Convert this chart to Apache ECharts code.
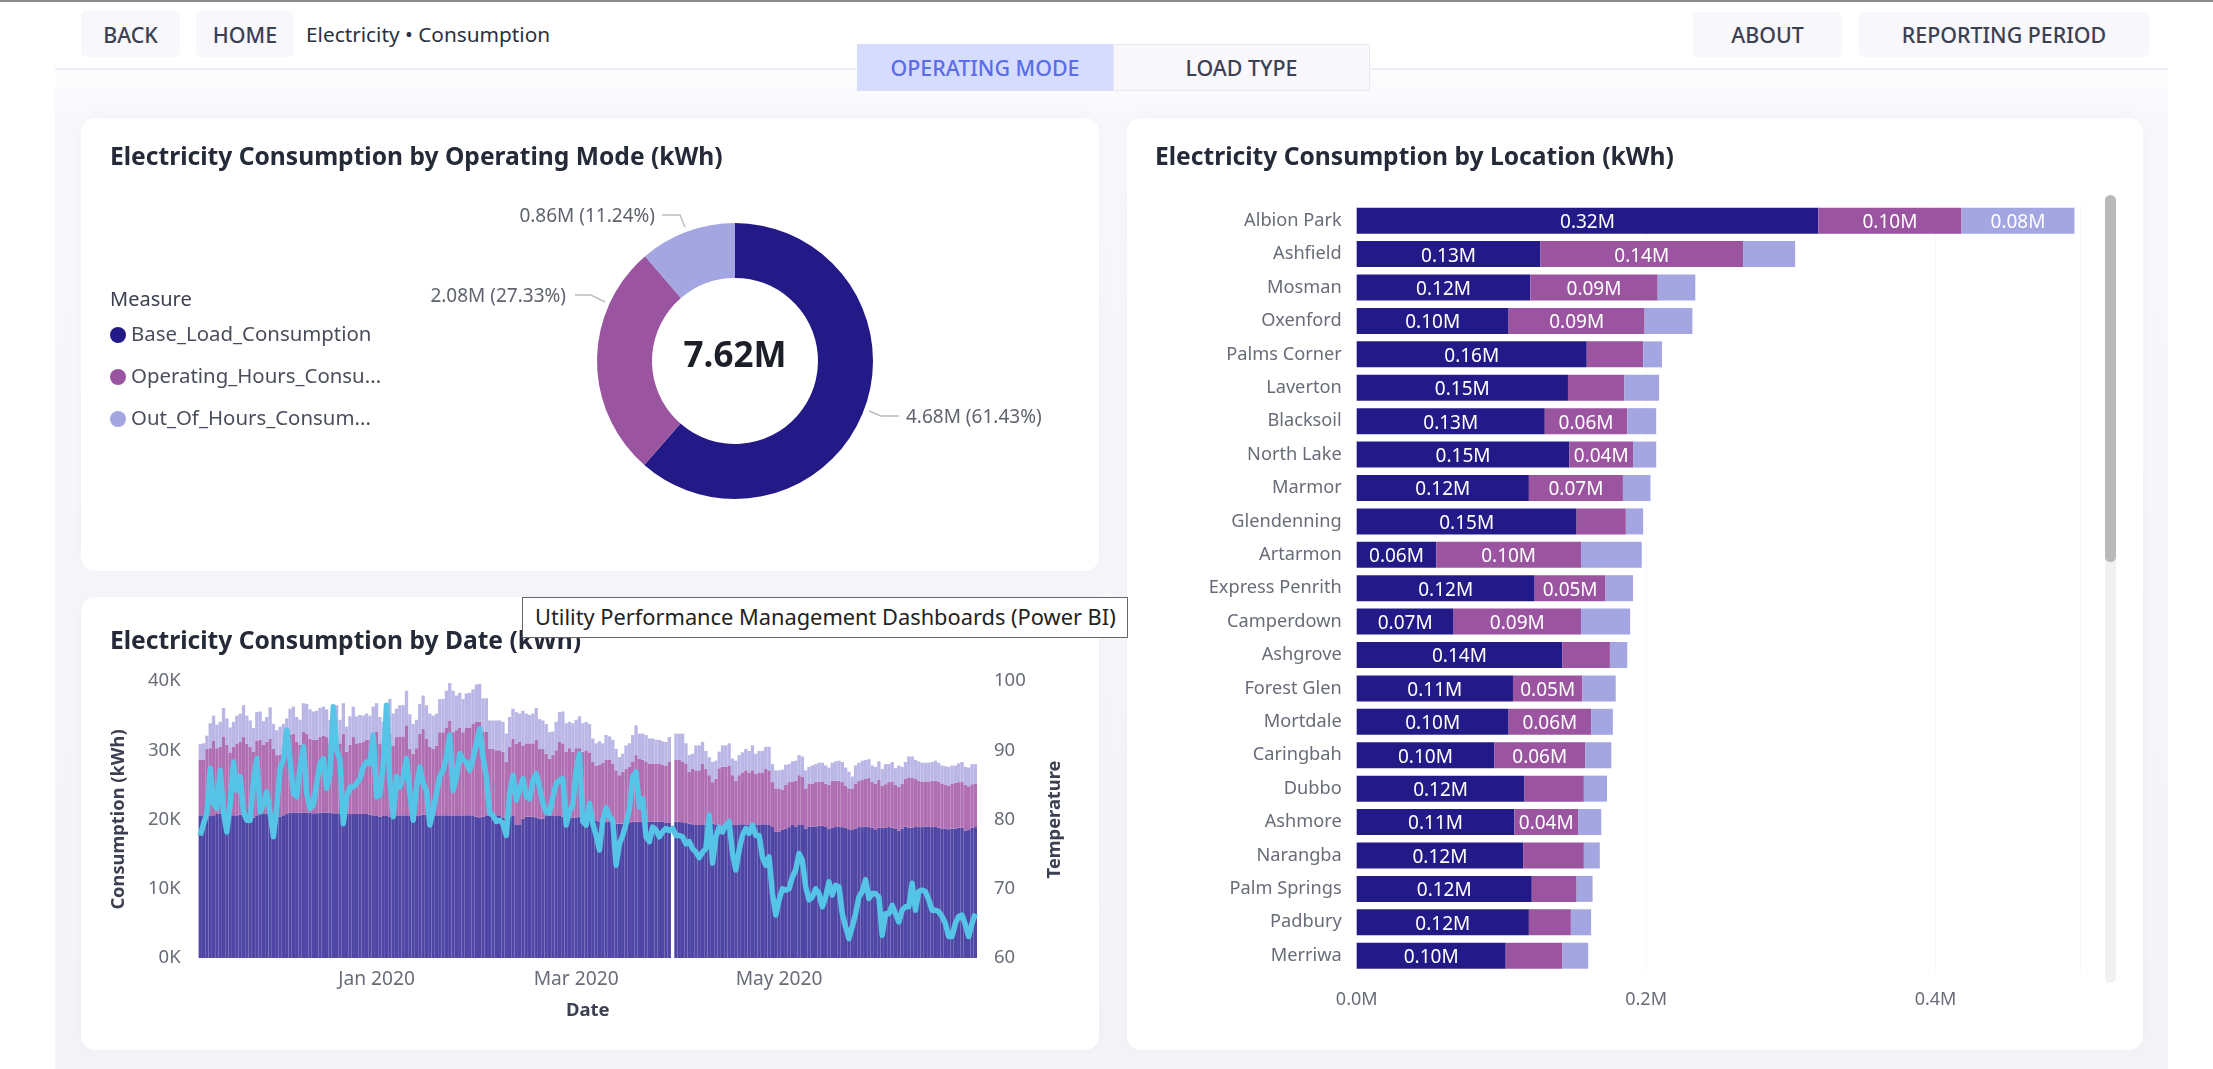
<!DOCTYPE html>
<html lang="en">

<head>
    <meta charset="UTF-8">
    <title>Electricity Consumption</title>
    <script src="https://cdn.jsdelivr.net/npm/echarts@6/dist/echarts.min.js"></script>
    <style>
        html, body { margin: 0; padding: 0; background: #fff; }
        body { width: 2213px; height: 1069px; overflow: hidden; position: relative; font-family: "Noto Sans", sans-serif; color: #3c4050; }
        .topline { position: absolute; left: 0; top: 0; width: 2213px; height: 2px; background: #8c8c90; }
        .page { position: absolute; left: 55px; top: 68px; width: 2113px; height: 1001px; background: linear-gradient(#fdfdfe, #f8f8fc 50px, #f4f4f8); border-top: 2px solid #eeeef6; box-sizing: border-box; }
        .btn { position: absolute; background: #f7f7fc; border-radius: 5px; font-size: 21.4px; font-weight: 500; display: flex; align-items: center; justify-content: center; }
        .crumb { position: absolute; left: 306px; top: 20px; font-size: 20.8px; color: #2c3040; }
        .card { position: absolute; background: #fff; border-radius: 14px; box-shadow: 0 0 14px rgba(120, 120, 170, 0.06); }
        #tip { position: absolute; left: 522px; top: 597px; width: 606px; height: 41px; box-sizing: border-box; background: #fff; border: 1.5px solid #666; font-size: 21.8px; color: #222; line-height: 38px; padding-left: 12px; white-space: nowrap; z-index: 5; }
        #main { position: absolute; left: 0; top: 0; width: 2213px; height: 1069px; z-index: 2; }
        .track { position: absolute; left: 2105px; top: 195px; width: 11px; height: 788px; background: #f1f1f3; border-radius: 6px; z-index: 3; }
        .thumb { position: absolute; left: 2105px; top: 195px; width: 11px; height: 367px; background: #b9b9bb; border-radius: 6px; z-index: 3; }
    </style>
</head>

<body>
    <div class="topline"></div>
    <div class="page"></div>
    <div class="btn" style="left:81px;top:11px;width:99px;height:46px">BACK</div>
    <div class="btn" style="left:196px;top:11px;width:98px;height:46px">HOME</div>
    <div class="crumb">Electricity • Consumption</div>
    <div class="btn" style="left:857px;top:44px;width:256px;height:47px;background:#d5dcfd;color:#5a6cea;border-radius:0">OPERATING MODE</div>
    <div class="btn" style="left:1113px;top:44px;width:257px;height:47px;border:1px solid #e8e8f2;box-sizing:border-box;border-radius:0">LOAD TYPE</div>
    <div class="btn" style="left:1693px;top:12px;width:149px;height:45px">ABOUT</div>
    <div class="btn" style="left:1859px;top:12px;width:290px;height:45px">REPORTING PERIOD</div>
    <div class="card" style="left:81px;top:118px;width:1018px;height:453px"></div>
    <div class="card" style="left:81px;top:597px;width:1018px;height:453px"></div>
    <div class="card" style="left:1127px;top:118px;width:1016px;height:932px"></div>
    <div class="track"></div>
    <div class="thumb"></div>
    <div id="tip">Utility Performance Management Dashboards (Power BI)</div>
    <div id="main"></div>
</body>
<script>
    // donut, in millions of kWh
    const measures = ['Base_Load_Consumption', 'Operating_Hours_Consumption', 'Out_Of_Hours_Consumption']
    const measureLabels = ['Base_Load_Consumption', 'Operating_Hours_Consu...', 'Out_Of_Hours_Consum...']
    const modeValues = [4.68, 2.08, 0.86]
    const modePercents = ['61.43', '27.33', '11.24']
    const modeTotal = '7.62M'

    // locations, in millions of kWh
    const locations = ['Albion Park', 'Ashfield', 'Mosman', 'Oxenford', 'Palms Corner', 'Laverton', 'Blacksoil', 'North Lake', 'Marmor', 'Glendenning', 'Artarmon', 'Express Penrith', 'Camperdown', 'Ashgrove', 'Forest Glen', 'Mortdale', 'Caringbah', 'Dubbo', 'Ashmore', 'Narangba', 'Palm Springs', 'Padbury', 'Merriwa']
    const locBase = [0.319, 0.127, 0.120, 0.105, 0.159, 0.146, 0.130, 0.147, 0.119, 0.152, 0.055, 0.123, 0.067, 0.142, 0.108, 0.105, 0.095, 0.116, 0.109, 0.115, 0.121, 0.119, 0.103]
    const locOperating = [0.099, 0.140, 0.088, 0.094, 0.039, 0.039, 0.057, 0.044, 0.065, 0.034, 0.100, 0.049, 0.088, 0.033, 0.048, 0.057, 0.063, 0.041, 0.044, 0.042, 0.031, 0.029, 0.039]
    const locOut = [0.078, 0.036, 0.026, 0.033, 0.013, 0.024, 0.020, 0.016, 0.019, 0.012, 0.042, 0.019, 0.034, 0.012, 0.023, 0.015, 0.018, 0.016, 0.016, 0.011, 0.011, 0.014, 0.018]

    // daily series from 9 Nov 2019, in thousands of kWh; one day has no bars
    const dayBase = [
        20.6, 20.6, 20.6, 20.5, 20.6, 20.8, 20.9, 21.0, 20.9, 20.7, 20.6, 20.6, 20.7, 20.7, 20.6, 20.4, 20.3, 20.6, 20.8, 20.8,
        20.8, 20.6, 20.6, 20.6, 20.4, 20.6, 20.8, 21.0, 21.0, 21.0, 21.0, 21.0, 21.0, 21.0, 20.9, 20.9, 21.0, 21.0, 21.0, 21.0,
        20.9, 20.9, 20.8, 20.8, 20.8, 20.8, 20.8, 20.8, 20.8, 20.8, 20.8, 20.7, 20.6, 20.5, 20.4, 20.6, 20.5, 20.4, 20.3,
        20.6, 20.6, 20.6, 20.6, 20.6, 20.4, 20.5, 20.6, 20.7, 20.7, 20.6, 20.6, 20.6, 20.6, 20.6, 20.6, 20.6, 20.6, 20.6, 20.6,
        20.6, 20.6, 20.6, 20.6, 20.4, 20.3, 20.4, 20.5, 20.6, 20.6, 20.6, 20.5, 20.3, 20.1, 20.4, 20.5, 19.3, 19.2, 20.1, 20.4,
        20.4, 20.4, 20.3, 20.1, 20.1, 20.5, 20.5, 20.5, 20.5, 20.5, 20.4, 20.3, 20.3, 20.3, 20.3, 20.4, 20.3, 20.2, 20.1,
        19.9, 19.8, 19.7, 19.7, 19.7, 19.7, 19.5, 19.4, 19.4, 19.4, 19.5, 19.5, 19.7, 19.7, 19.7, 19.7, 19.7, 19.7, 19.7, 19.7,
        19.7, 19.7, 19.5, 19.5, null,
        19.7, 19.7, 19.6, 19.5, 19.4, 19.3, 19.2, 19.2, 19.2, 19.3, 19.4, 19.4, 19.3, 19.2, 19.1, 19.1, 19.1, 19.2, 19.2, 19.3,
        19.3, 19.3, 19.3, 19.3, 19.3, 19.3, 19.3, 19.3, 19.2, 18.9, 18.2, 18.2, 18.5,
        18.7, 18.9, 19.2, 19.0, 19.3, 19.2, 18.7, 19.0, 19.0, 19.0, 19.1, 19.1, 18.9, 18.7, 18.8, 18.9, 19.0, 18.9, 18.8, 18.6,
        18.5, 18.7, 18.9, 18.9, 19.0, 18.9, 18.8, 18.6, 18.8, 18.8, 18.8, 18.9, 18.8, 18.7, 18.4, 18.7, 19.0, 18.8, 18.8, 18.9,
        18.9, 18.9, 19.0, 19.0, 18.9, 18.9, 18.8, 18.7, 18.7, 18.6, 18.7, 18.7, 18.8, 18.8, 18.4, 18.5, 18.8, 18.9
    ]
    const dayOperating = [
        8.0, 8.0, 9.6, 9.8, 10.8, 9.5, 9.6, 11.0, 9.9, 9.0, 9.9, 10.3, 10.5, 11.2, 10.3, 10.1, 9.5, 10.8, 10.7, 10.0,
        10.4, 11.1, 9.6, 8.7, 8.9, 8.9, 10.0, 11.2, 11.4, 10.2, 9.8, 11.7, 11.4, 10.7, 10.6, 10.6, 10.9, 11.1, 10.9, 10.0,
        11.0, 11.5, 10.2, 11.6, 9.0, 10.0, 11.1, 10.2, 10.3, 10.4, 10.7, 10.8, 11.5, 12.2, 10.6, 9.9, 11.2, 12.0, 10.4,
        11.3, 11.4, 11.4, 13.0, 9.6, 9.1, 9.8, 11.8, 12.4, 11.0, 9.9, 9.6, 10.1, 12.0, 12.0, 12.7, 13.7, 12.0, 12.3, 12.7,
        12.0, 12.7, 12.7, 13.2, 13.7, 13.8, 12.3, 12.2, 9.6, 9.6, 9.4, 9.5, 9.5, 8.2, 10.1, 11.2, 11.6, 12.0, 10.6, 10.6,
        10.6, 10.6, 11.2, 10.1, 10.1, 9.0, 8.3, 8.8, 9.5, 10.7, 10.6, 9.5, 10.0, 9.5, 10.0, 9.9, 9.5, 9.8, 9.6,
        8.4, 8.0, 8.2, 8.5, 8.9, 8.9, 8.6, 7.7, 7.0, 7.5, 7.8, 8.1, 8.7, 9.6, 9.1, 8.9, 8.7, 8.4, 8.4, 8.4,
        8.4, 8.2, 8.3, 8.8, null,
        8.9, 8.9, 8.7, 8.6, 7.5, 8.0, 7.9, 7.9, 8.9, 8.0, 7.0, 6.0, 6.6, 8.2, 8.5, 8.5, 8.7, 7.2, 6.4, 7.1,
        7.5, 7.8, 7.5, 7.8, 7.3, 7.5, 7.5, 8.0, 7.9, 6.5, 6.3, 6.3, 5.8,
        6.3, 6.5, 6.3, 6.6, 7.1, 7.0, 5.8, 6.2, 6.2, 6.4, 6.4, 6.4, 6.3, 6.3, 6.8, 6.7, 6.6, 6.5, 6.1, 5.9,
        6.0, 6.5, 6.7, 6.8, 6.9, 7.1, 6.6, 6.6, 6.9, 6.1, 6.3, 6.5, 6.7, 6.3, 6.3, 6.5, 6.9, 7.3, 7.2, 7.0,
        6.7, 6.6, 6.5, 6.5, 6.7, 6.7, 6.7, 6.5, 6.3, 6.3, 6.5, 6.6, 6.6, 6.7, 6.6, 6.3, 6.3, 6.3
    ]
    const dayOut = [
        2.3, 2.4, 1.9, 3.6, 3.6, 3.4, 3.6, 4.1, 3.8, 3.6, 3.6, 4.1, 4.1, 4.6, 4.1, 3.8, 3.4, 4.1, 4.1, 3.4,
        3.6, 4.5, 3.6, 3.6, 4.1, 4.3, 3.8, 3.8, 3.9, 3.6, 3.6, 4.1, 4.3, 4.2, 4.1, 4.2, 4.2, 4.2, 4.0, 3.4,
        4.2, 4.1, 3.4, 4.4, 3.6, 4.1, 4.4, 3.9, 4.0, 3.8, 3.8, 3.5, 4.2, 4.1, 3.8, 3.6, 5.0, 5.0, 4.6,
        4.1, 4.5, 4.5, 5.0, 5.0, 4.3, 4.1, 4.3, 4.8, 4.8, 4.8, 4.8, 4.6, 4.8, 4.8, 5.3, 5.4, 6.0, 5.0, 5.0,
        4.8, 4.9, 5.0, 5.0, 5.4, 5.5, 4.8, 4.8, 4.1, 4.1, 4.3, 4.3, 4.3, 4.1, 4.3, 4.3, 4.6, 4.1, 5.0, 4.3,
        4.1, 4.3, 4.6, 4.3, 4.1, 4.3, 3.8, 3.4, 4.1, 4.3, 4.6, 4.1, 3.8, 4.1, 4.1, 4.6, 4.1, 4.1, 4.1,
        3.4, 3.2, 3.4, 2.8, 3.6, 3.4, 3.4, 3.1, 2.6, 2.6, 3.4, 3.4, 3.8, 4.3, 3.6, 3.8, 3.8, 3.6, 3.6, 3.4,
        3.4, 3.4, 3.4, 3.6, null,
        3.8, 3.8, 4.1, 2.9, 2.4, 2.2, 3.6, 3.6, 3.1, 2.6, 2.6, 2.9, 2.6, 2.4, 3.1, 3.1, 3.2, 2.4, 2.9, 2.9,
        2.9, 3.1, 3.1, 3.6, 2.9, 3.1, 3.1, 3.2, 3.4, 2.6, 2.6, 2.6, 2.9,
        2.9, 2.6, 2.9, 2.9, 2.9, 2.9, 2.6, 2.4, 2.6, 2.6, 2.7, 2.7, 2.6, 2.5, 2.6, 2.8, 2.9, 2.9, 2.6, 2.4,
        1.7, 2.6, 2.6, 2.8, 2.7, 2.7, 2.4, 2.4, 2.7, 2.4, 2.9, 2.6, 2.8, 2.4, 3.1, 2.4, 2.4, 3.0, 3.1, 2.7,
        2.8, 2.7, 2.7, 2.7, 2.7, 2.9, 2.7, 2.6, 2.7, 2.7, 2.6, 2.5, 2.7, 2.8, 2.6, 2.7, 2.9, 2.8
    ]
    const dayTemperature = [
        77.7, 79.4, 80.9, 87.4, 82.3, 81.6, 87.1, 80.9, 78.2, 82.3, 88.3, 84.2, 86.2, 81.1, 79.9, 79.9, 85.7, 88.8, 81.1, 82.3,
        84.0, 80.9, 77.5, 81.8, 87.4, 88.6, 92.9, 88.6, 83.8, 83.3, 87.6, 90.5, 83.8, 81.6, 82.1, 85.2, 88.1, 88.8, 84.5, 86.6,
        96.3, 90.0, 88.6, 79.4, 83.3, 84.7, 84.7, 85.2, 85.9, 87.6, 88.3, 88.1, 92.2, 83.3, 83.5, 88.1, 96.5, 85.7, 80.4,
        86.2, 84.7, 86.2, 88.8, 83.8, 79.9, 84.7, 87.6, 85.2, 84.2, 79.2, 81.3, 83.8, 86.2, 87.1, 89.0, 92.2, 84.2, 86.2, 89.5,
        88.6, 88.3, 87.1, 88.8, 91.0, 93.1, 89.0, 86.2, 80.9, 80.6, 79.7, 79.9, 79.4, 77.7, 83.8, 86.4, 82.8, 84.5, 85.9, 83.3,
        83.0, 85.7, 86.6, 84.7, 82.3, 81.1, 80.9, 83.3, 85.2, 85.7, 85.9, 79.2, 81.3, 82.1, 87.1, 89.5, 79.7, 79.2, 82.3,
        79.4, 77.7, 75.6, 79.9, 81.7, 80.4, 79.9, 73.4, 76.5, 77.7, 79.4, 81.6, 86.2, 86.9, 81.8, 83.0, 77.5, 76.8, 78.9, 78.5,
        77.5, 78.2, 78.7, 78.4, 78.7, 77.7, 77.7, 77.5, 76.5, 76.8, 75.8, 75.3, 74.5, 75.3, 75.8, 80.6, 73.7, 77.5, 78.9, 78.2,
        79.2, 79.7, 75.1, 72.7, 75.6, 77.7, 78.7, 78.0, 79.2, 77.7, 77.7, 74.6, 73.4, 74.6, 69.3, 66.2, 68.4, 70.0,
        69.8, 70.0, 71.7, 72.7, 75.1, 74.1, 70.3, 68.4, 68.8, 70.0, 69.3, 67.4, 68.8, 71.0, 69.1, 70.5, 70.3, 66.4, 64.5, 62.8,
        64.5, 66.4, 68.8, 69.6, 71.3, 68.6, 69.3, 69.3, 68.8, 63.3, 66.4, 66.4, 67.6, 66.4, 65.2, 66.9, 67.4, 67.4, 70.8, 66.9,
        69.6, 69.8, 69.6, 68.4, 66.9, 66.9, 66.7, 66.0, 65.0, 63.1, 63.1, 65.0, 66.0, 66.2, 64.8, 63.1, 65.0, 66.4
    ]
    const dateTicks = { '2020-01-01': 'Jan 2020', '2020-03-01': 'Mar 2020', '2020-05-01': 'May 2020' }

    const font = '"Noto Sans", sans-serif'
    const gray = '#686c78'
    const solid = ['#241a87', '#9b55a0', '#a3a6e0']
    const washed = ['#4f46a5', '#b06fb2', '#bab6e6']

    const dates = dayBase.map((v, i) => new Date(Date.UTC(2019, 10, 9 + i)).toISOString().slice(0, 10))

    function title(text, left, top) {
        return { text, left, top, padding: 0, textVerticalAlign: 'middle', textStyle: { fontFamily: font, fontSize: 24.6, fontWeight: 'bold', color: '#252a38' } }
    }

    function locSeries(name, data, color) {
        return {
            name, type: 'bar', stack: 'loc', xAxisIndex: 0, yAxisIndex: 0, data, barWidth: 26,
            itemStyle: { color },
            label: {
                show: true, position: 'inside', offset: [0, 2], color: '#fff', fontFamily: font, fontSize: 19,
                formatter: p => p.value >= 0.043 ? p.value.toFixed(2) + 'M' : ''
            }
        }
    }

    function daySeries(name, data, color) {
        return { name, type: 'bar', stack: 'day', xAxisIndex: 1, yAxisIndex: 1, data, barCategoryGap: '0%', itemStyle: { color }, silent: true }
    }

    // leader lines of the donut, as placed in the reference
    const leaders = [
        { x: 906, y: 418, align: 'left', line: [[869, 411], [881, 416], [899, 416]] },
        { x: 566, y: 297, align: 'right', line: [[605, 302], [591, 295], [575, 295]] },
        { x: 655, y: 217, align: 'right', line: [[685, 227], [680, 215], [662, 215]] }
    ]

    const mCharts = echarts.init(document.querySelector('#main'))
    mCharts.setOption({
        animation: false,
        title: [
            title('Electricity Consumption by Operating Mode (kWh)', 110, 158),
            title('Electricity Consumption by Date (kWh)', 110, 642),
            title('Electricity Consumption by Location (kWh)', 1155, 158),
            { text: 'Measure', left: 110, top: 300, padding: 0, textVerticalAlign: 'middle', textStyle: { fontFamily: font, fontSize: 20, fontWeight: 'normal', color: '#3c4050' } },
            { text: modeTotal, left: 735, top: 357, padding: 0, textAlign: 'center', textVerticalAlign: 'middle', textStyle: { fontFamily: font, fontSize: 35, fontWeight: 'bold', color: '#1d1f28' } }
        ],
        legend: {
            data: measures, orient: 'vertical', left: 105, top: 320, icon: 'circle', itemWidth: 16, itemHeight: 16, itemGap: 22,
            formatter: name => measureLabels[measures.indexOf(name)],
            textStyle: { fontFamily: font, fontSize: 20.4, color: '#4a4e5c' }
        },
        grid: [
            { left: 1356.7, top: 204, width: 723.5, height: 768.4 },
            { left: 198.6, top: 681, width: 778.4, height: 277 }
        ],
        xAxis: [
            {
                type: 'value', gridIndex: 0, min: 0, max: 0.5, interval: 0.2,
                axisLine: { show: false }, axisTick: { show: false }, splitLine: { lineStyle: { color: '#f8f8f8' } },
                axisLabel: { showMaxLabel: false, margin: 18, fontFamily: font, fontSize: 18, color: gray, formatter: v => v.toFixed(1) + 'M' }
            },
            {
                type: 'category', gridIndex: 1, data: dates,
                axisLine: { show: false }, axisTick: { show: false },
                axisLabel: {
                    margin: 12, fontFamily: font, fontSize: 19.2, color: gray,
                    interval: (i, v) => v in dateTicks, formatter: v => dateTicks[v]
                },
                name: 'Date', nameLocation: 'middle', nameGap: 43,
                nameTextStyle: { fontFamily: font, fontSize: 18.5, fontWeight: 'bold', color: '#3c4050' }
            }
        ],
        yAxis: [
            {
                type: 'category', gridIndex: 0, data: locations, inverse: true,
                axisLine: { show: false }, axisTick: { show: false },
                axisLabel: { margin: 15, fontFamily: font, fontSize: 18.2, color: gray }
            },
            {
                type: 'value', gridIndex: 1, min: 0, max: 40, interval: 10, splitLine: { show: false },
                axisLabel: { margin: 18, fontFamily: font, fontSize: 18.5, color: gray, formatter: '{value}K' },
                name: 'Consumption (kWh)', nameLocation: 'middle', nameGap: 71,
                nameTextStyle: { fontFamily: font, fontSize: 18.3, fontWeight: 'bold', color: '#3c4050' }
            },
            {
                type: 'value', gridIndex: 1, position: 'right', min: 60, max: 100, interval: 10, splitLine: { show: false },
                axisLabel: { margin: 17, fontFamily: font, fontSize: 18.5, color: gray },
                name: 'Temperature', nameLocation: 'middle', nameGap: 69, nameRotate: 90,
                nameTextStyle: { fontFamily: font, fontSize: 18.3, fontWeight: 'bold', color: '#3c4050' }
            }
        ],
        series: [
            {
                type: 'pie', center: [735, 361], radius: [83, 138], startAngle: 90,
                data: measures.map((name, i) => ({ name, value: modeValues[i], itemStyle: { color: solid[i] } })),
                label: {
                    fontFamily: font, fontSize: 19, color: '#5f636e',
                    formatter: p => modeValues[p.dataIndex].toFixed(2) + 'M (' + modePercents[p.dataIndex] + '%)'
                },
                labelLine: { lineStyle: { color: '#bdbdc2', width: 1.5 } },
                labelLayout: p => ({
                    x: leaders[p.dataIndex].x, y: leaders[p.dataIndex].y, align: leaders[p.dataIndex].align,
                    verticalAlign: 'middle', labelLinePoints: leaders[p.dataIndex].line
                })
            },
            locSeries('Base load by location', locBase, solid[0]),
            locSeries('Operating hours by location', locOperating, solid[1]),
            locSeries('Out of hours by location', locOut, solid[2]),
            daySeries('Base load by date', dayBase, washed[0]),
            daySeries('Operating hours by date', dayOperating, washed[1]),
            daySeries('Out of hours by date', dayOut, washed[2]),
            {
                name: 'Temperature', type: 'line', xAxisIndex: 1, yAxisIndex: 2, data: dayTemperature,
                symbol: 'none', z: 5, lineStyle: { color: '#55c4e6', width: 5.5, join: 'round' }
            }
        ]
    })
</script>

</html>
